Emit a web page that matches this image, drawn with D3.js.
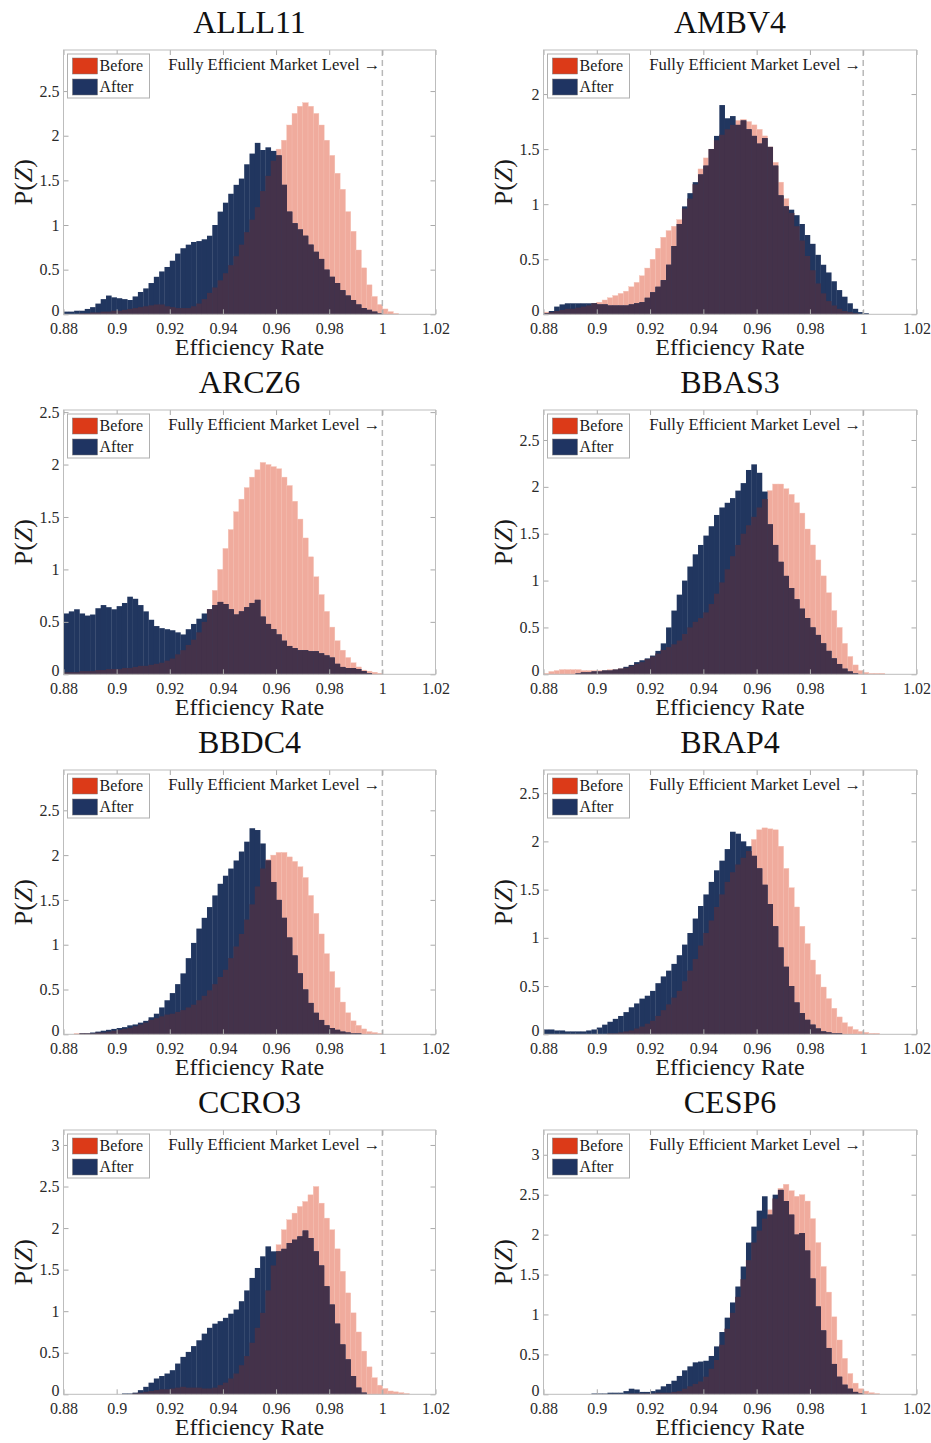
<!DOCTYPE html>
<html>
<head>
<meta charset="utf-8">
<script src="https://cdn.jsdelivr.net/npm/d3@7"></script>
<style>
  body { margin: 0; background: #fff; }
  text { font-family: "Liberation Serif", "Times New Roman", serif; }
</style>
</head>
<body>
<script>
// histogram bins: 0.880 .. 1.012, width 0.002 (66 bins)
let binStart = 0.88;
let binWidth = 0.002;

let tickers = ["ALLL11", "AMBV4", "ARCZ6", "BBAS3", "BBDC4", "BRAP4", "CCRO3", "CESP6"];
let yMaxes = [2.96, 2.40, 2.52, 2.82, 2.95, 2.74, 3.18, 3.31];

let xTicks = [0.88, 0.9, 0.92, 0.94, 0.96, 0.98, 1, 1.02];
let xTickLabels = ["0.88", "0.9", "0.92", "0.94", "0.96", "0.98", "1", "1.02"];
let yTicks = [0, 0.5, 1, 1.5, 2, 2.5, 3];
let yTickLabels = ["0", "0.5", "1", "1.5", "2", "2.5", "3"];

let seriesNames = ["Before", "After"];

let alll11Before = [0,0,0,0.01,0.01,0.02,0.02,0.03,0.03,0.04,0.04,0.05,0.06,0.07,0.08,0.09,0.10,0.11,0.11,0.09,0.08,0.07,0.07,0.07,0.09,0.12,0.17,0.24,0.30,0.38,0.46,0.55,0.65,0.78,0.92,1.06,1.20,1.38,1.55,1.72,1.85,1.95,2.12,2.25,2.33,2.37,2.33,2.25,2.12,1.95,1.78,1.58,1.40,1.15,0.93,0.72,0.52,0.33,0.20,0.11,0.06,0.03,0.01,0,0,0];
let alll11After = [0.03,0.03,0.04,0.04,0.06,0.08,0.12,0.17,0.21,0.19,0.18,0.17,0.16,0.20,0.25,0.29,0.35,0.42,0.48,0.53,0.60,0.68,0.74,0.78,0.81,0.82,0.84,0.88,1.00,1.15,1.25,1.35,1.45,1.52,1.68,1.80,1.92,1.84,1.87,1.83,1.78,1.45,1.15,1.02,0.95,0.88,0.78,0.70,0.62,0.50,0.42,0.35,0.27,0.21,0.16,0.11,0.07,0.05,0.03,0.01,0,0,0,0,0,0];

let ambv4Before = [0.02,0.02,0.03,0.04,0.05,0.05,0.06,0.07,0.08,0.10,0.11,0.13,0.15,0.17,0.19,0.21,0.25,0.29,0.35,0.42,0.50,0.60,0.70,0.76,0.80,0.86,0.96,1.05,1.18,1.32,1.42,1.50,1.58,1.63,1.68,1.72,1.76,1.77,1.75,1.72,1.68,1.62,1.52,1.38,1.20,1.05,0.92,0.80,0.67,0.53,0.40,0.28,0.19,0.12,0.08,0.05,0.03,0.02,0.01,0,0,0,0,0,0,0];
let ambv4After = [0.01,0.03,0.07,0.09,0.10,0.10,0.10,0.10,0.10,0.10,0.09,0.09,0.08,0.08,0.08,0.08,0.09,0.10,0.11,0.15,0.20,0.25,0.31,0.45,0.62,0.82,0.98,1.10,1.20,1.27,1.35,1.50,1.62,1.90,1.78,1.80,1.72,1.76,1.68,1.62,1.55,1.60,1.52,1.35,1.08,0.98,0.95,0.90,0.82,0.72,0.64,0.54,0.45,0.38,0.30,0.22,0.16,0.10,0.05,0.02,0.01,0,0,0,0,0];

let arcz6Before = [0.02,0.02,0.02,0.03,0.03,0.03,0.04,0.04,0.05,0.05,0.05,0.06,0.06,0.07,0.08,0.08,0.09,0.10,0.11,0.13,0.15,0.19,0.23,0.28,0.33,0.40,0.50,0.62,0.80,1.00,1.20,1.38,1.55,1.67,1.78,1.88,1.95,2.02,2.00,1.98,1.96,1.88,1.80,1.65,1.48,1.30,1.12,0.93,0.76,0.60,0.45,0.32,0.23,0.16,0.11,0.07,0.04,0.03,0.02,0.01,0,0,0,0,0,0];
let arcz6After = [0.58,0.60,0.62,0.58,0.56,0.57,0.63,0.66,0.64,0.62,0.65,0.68,0.74,0.72,0.66,0.60,0.52,0.46,0.44,0.43,0.42,0.40,0.38,0.43,0.48,0.53,0.58,0.62,0.66,0.69,0.67,0.62,0.57,0.60,0.64,0.68,0.71,0.55,0.48,0.43,0.38,0.32,0.27,0.25,0.23,0.23,0.22,0.22,0.20,0.18,0.16,0.10,0.07,0.06,0.06,0.05,0.03,0.01,0,0,0,0,0,0,0,0];

let bbas3Before = [0.01,0.03,0.04,0.05,0.05,0.05,0.05,0.04,0.04,0.04,0.04,0.04,0.05,0.05,0.06,0.07,0.09,0.11,0.13,0.16,0.19,0.22,0.26,0.29,0.32,0.36,0.43,0.50,0.56,0.60,0.66,0.75,0.86,0.98,1.12,1.26,1.38,1.50,1.59,1.68,1.78,1.87,1.96,2.03,2.03,1.98,1.92,1.83,1.72,1.55,1.38,1.22,1.05,0.87,0.68,0.50,0.33,0.19,0.10,0.04,0.02,0.01,0.01,0.01,0,0];
let bbas3After = [0,0,0,0,0,0,0.01,0.02,0.02,0.03,0.03,0.04,0.04,0.05,0.06,0.08,0.10,0.13,0.15,0.17,0.20,0.25,0.33,0.50,0.68,0.85,1.00,1.15,1.28,1.38,1.48,1.58,1.70,1.78,1.83,1.88,1.96,2.04,2.18,2.24,2.15,1.95,1.60,1.38,1.20,1.05,0.92,0.80,0.70,0.60,0.50,0.42,0.33,0.25,0.17,0.11,0.06,0.03,0.01,0,0,0,0,0,0,0];

let bbdc4Before = [0,0,0.01,0.01,0.01,0.01,0.02,0.02,0.03,0.04,0.05,0.06,0.07,0.09,0.11,0.13,0.16,0.18,0.20,0.22,0.23,0.25,0.27,0.30,0.33,0.38,0.43,0.49,0.56,0.64,0.72,0.85,0.98,1.12,1.28,1.45,1.65,1.85,1.95,2.00,2.03,2.03,1.98,1.93,1.87,1.75,1.55,1.35,1.12,0.90,0.70,0.52,0.36,0.24,0.15,0.10,0.06,0.03,0.02,0.01,0,0,0,0,0,0];
let bbdc4After = [0,0,0,0.01,0.01,0.02,0.03,0.04,0.05,0.06,0.07,0.08,0.10,0.11,0.13,0.15,0.19,0.23,0.30,0.38,0.46,0.56,0.68,0.85,1.02,1.18,1.30,1.42,1.55,1.68,1.77,1.85,1.94,2.04,2.15,2.30,2.28,2.13,1.94,1.70,1.50,1.30,1.08,0.88,0.68,0.50,0.35,0.24,0.16,0.10,0.07,0.05,0.03,0.02,0.01,0.01,0,0,0,0,0,0,0,0,0,0];

let brap4Before = [0,0,0,0,0,0,0,0,0,0,0,0,0.01,0.01,0.02,0.03,0.04,0.06,0.08,0.11,0.14,0.19,0.25,0.31,0.38,0.45,0.55,0.66,0.78,0.92,1.05,1.18,1.32,1.45,1.58,1.68,1.76,1.83,1.90,2.02,2.12,2.14,2.13,2.12,1.95,1.72,1.52,1.32,1.12,0.94,0.77,0.62,0.49,0.37,0.27,0.18,0.12,0.08,0.05,0.03,0.02,0.01,0.01,0,0,0];
let brap4After = [0.05,0.05,0.04,0.04,0.03,0.03,0.03,0.03,0.04,0.05,0.07,0.10,0.13,0.16,0.19,0.23,0.28,0.32,0.37,0.40,0.45,0.53,0.60,0.66,0.73,0.82,0.93,1.05,1.20,1.33,1.45,1.58,1.70,1.80,1.92,2.10,2.08,2.00,1.95,1.85,1.72,1.55,1.35,1.12,0.90,0.70,0.50,0.33,0.22,0.15,0.10,0.06,0.03,0.02,0.01,0.01,0,0,0,0,0,0,0,0,0,0];

let ccro3Before = [0,0,0,0,0,0,0,0,0,0,0,0,0,0.01,0.02,0.03,0.04,0.05,0.06,0.06,0.07,0.08,0.09,0.08,0.08,0.08,0.07,0.07,0.08,0.11,0.14,0.19,0.25,0.35,0.46,0.62,0.80,0.98,1.25,1.55,1.80,1.98,2.10,2.18,2.26,2.32,2.40,2.50,2.30,2.12,1.98,1.75,1.48,1.22,0.98,0.75,0.52,0.33,0.20,0.11,0.07,0.04,0.03,0.02,0.01,0];
let ccro3After = [0,0,0,0,0,0,0,0,0,0,0,0.01,0.01,0.02,0.05,0.09,0.14,0.19,0.22,0.25,0.29,0.37,0.45,0.51,0.58,0.65,0.73,0.80,0.85,0.88,0.92,0.97,1.02,1.12,1.25,1.40,1.52,1.66,1.78,1.72,1.72,1.75,1.82,1.86,1.90,1.97,1.88,1.72,1.55,1.30,1.08,0.85,0.60,0.42,0.22,0.08,0.02,0,0,0,0,0,0,0,0,0];

let cesp6Before = [0,0,0,0,0,0,0,0,0,0,0,0,0,0,0,0,0.01,0.01,0.01,0.01,0.01,0.02,0.02,0.02,0.03,0.04,0.07,0.10,0.13,0.16,0.22,0.32,0.43,0.62,0.82,1.02,1.22,1.44,1.68,1.90,2.05,2.20,2.31,2.45,2.58,2.63,2.55,2.48,2.50,2.42,2.20,1.90,1.60,1.28,0.97,0.68,0.45,0.26,0.14,0.07,0.04,0.02,0.01,0,0,0];
let cesp6After = [0,0,0,0,0,0,0,0,0,0.01,0.01,0.01,0.02,0.02,0.02,0.04,0.07,0.06,0.03,0.03,0.04,0.06,0.10,0.13,0.17,0.23,0.30,0.35,0.40,0.41,0.42,0.48,0.60,0.78,0.96,1.15,1.35,1.60,1.90,2.10,2.30,2.48,2.25,2.50,2.56,2.42,2.25,2.00,2.02,1.80,1.45,1.10,0.80,0.58,0.38,0.22,0.12,0.07,0.03,0.01,0,0,0,0,0,0];

let beforeSeries = [alll11Before, ambv4Before, arcz6Before, bbas3Before, bbdc4Before, brap4Before, ccro3Before, cesp6Before];
let afterSeries = [alll11After, ambv4After, arcz6After, bbas3After, bbdc4After, brap4After, ccro3After, cesp6After];

let width = 931;
let height = 1443;

let colorBefore = "#f0ab9d";
let colorAfter = "#21365f";
let colorOverlap = "#44324a";
let swatchBefore = "#dc3a18";
let swatchAfter = "#1f3462";

let svg = d3.select("body").append("svg")
  .attr("width", width)
  .attr("height", height);

let drawPanel = (i) => {
  let col = i % 2;
  let row = Math.floor(i / 2);
  let left = col ? 543.5 : 63.5;
  let right = col ? 916.5 : 435.5;
  let top = 50 + row * 360;
  let bottom = 314.3 + row * 360;

  let xScale = d3.scaleLinear().domain([0.88, 1.02]).range([left, right]);
  let yScale = d3.scaleLinear().domain([0, yMaxes[i]]).range([bottom, top]);

  let g = svg.append("g").attr("class", "panel");

  let bins = beforeSeries[i].map((b, k) => ({
    x0: binStart + k * binWidth,
    before: b,
    after: afterSeries[i][k],
  }));

  let drawBars = (key, fill, stroke) => {
    g.append("g")
      .selectAll("rect")
      .data(bins.filter((d) => key(d) > 0))
      .enter()
      .append("rect")
      .attr("x", (d) => xScale(d.x0))
      .attr("width", (d) => xScale(d.x0 + binWidth) - xScale(d.x0) + 0.3)
      .attr("y", (d) => yScale(key(d)))
      .attr("height", (d) => yScale(0) - yScale(key(d)))
      .attr("fill", fill)
      .attr("stroke", stroke || "none")
      .attr("stroke-width", 0.4);
  };

  drawBars((d) => d.before, colorBefore, "#f5c2b6");
  drawBars((d) => d.after, colorAfter);
  drawBars((d) => Math.min(d.before, d.after), colorOverlap);

  // fully efficient market line
  g.append("line")
    .attr("x1", xScale(1)).attr("x2", xScale(1))
    .attr("y1", top).attr("y2", bottom)
    .attr("stroke", "#b8b8b8")
    .attr("stroke-width", 1.5)
    .attr("stroke-dasharray", "6,4");

  // axes (ticks inward, matlab style)
  let yT = yTicks.filter((t) => t <= yMaxes[i]);
  let xAxis = d3.axisBottom(xScale).tickValues(xTicks)
    .tickFormat((d, k) => xTickLabels[k]).tickSize(-5).tickPadding(8);
  let xAxisTop = d3.axisTop(xScale).tickValues(xTicks).tickFormat("").tickSize(-5);
  let yAxis = d3.axisLeft(yScale).tickValues(yT)
    .tickFormat((d, k) => yTickLabels[k]).tickSize(-5).tickPadding(4);
  let yAxisRight = d3.axisRight(yScale).tickValues(yT).tickFormat("").tickSize(-5);

  let axes = [
    g.append("g").attr("transform", "translate(0," + bottom + ")").call(xAxis),
    g.append("g").attr("transform", "translate(0," + top + ")").call(xAxisTop),
    g.append("g").attr("transform", "translate(" + left + ",0)").call(yAxis),
    g.append("g").attr("transform", "translate(" + right + ",0)").call(yAxisRight),
  ];
  axes.forEach((a) => {
    a.select(".domain").remove();
    a.selectAll("line").attr("stroke", "#aaa");
    a.selectAll("text")
      .style("font-family", "'Liberation Serif', serif")
      .style("font-size", "16px")
      .attr("fill", "#2a2a2a");
  });
  // lift the "0" label a little so it clears the x tick labels
  axes[2].selectAll(".tick text").filter((d) => d === 0).attr("dy", "0.08em");

  g.append("rect")
    .attr("x", left).attr("y", top)
    .attr("width", right - left).attr("height", bottom - top)
    .attr("fill", "none")
    .attr("stroke", "#bdbdbd")
    .attr("stroke-width", 1);

  // title
  g.append("text")
    .attr("x", (left + right) / 2)
    .attr("y", top - 17)
    .attr("text-anchor", "middle")
    .style("font-size", "32px")
    .attr("fill", "#111")
    .text(tickers[i]);

  // x label
  g.append("text")
    .attr("x", (left + right) / 2)
    .attr("y", bottom + 41)
    .attr("text-anchor", "middle")
    .style("font-size", "24px")
    .attr("fill", "#1a1a1a")
    .text("Efficiency Rate");

  // y label
  let ylab = g.append("text")
    .attr("transform", "translate(" + (left - 32) + "," + (top + bottom) / 2 + ") rotate(-90)")
    .attr("text-anchor", "middle")
    .style("font-size", "26px")
    .attr("fill", "#1a1a1a");
  ylab.append("tspan").text("P(");
  ylab.append("tspan").style("font-style", "italic").text("Z");
  ylab.append("tspan").text(")");

  // annotation
  g.append("text")
    .attr("x", xScale(1) - 214)
    .attr("y", top + 20)
    .attr("textLength", 212)
    .attr("lengthAdjust", "spacingAndGlyphs")
    .style("font-size", "16px")
    .attr("fill", "#1a1a1a")
    .text("Fully Efficient Market Level \u2192");

  // legend
  let legend = g.append("g").attr("transform", "translate(" + (left + 4) + "," + (top + 4) + ")");
  legend.append("rect")
    .attr("width", 82).attr("height", 44)
    .attr("fill", "#fff")
    .attr("stroke", "#b0b0b0");
  [swatchBefore, swatchAfter].forEach((c, k) => {
    legend.append("rect")
      .attr("x", 5).attr("y", 4 + k * 21)
      .attr("width", 25).attr("height", 16)
      .attr("fill", c)
      .attr("stroke", "#777").attr("stroke-width", 0.5);
    legend.append("text")
      .attr("x", 32).attr("y", 17 + k * 21)
      .style("font-size", "16px")
      .attr("fill", "#1a1a1a")
      .text(seriesNames[k]);
  });
};

tickers.forEach((t, i) => drawPanel(i));
</script>
</body>
</html>
